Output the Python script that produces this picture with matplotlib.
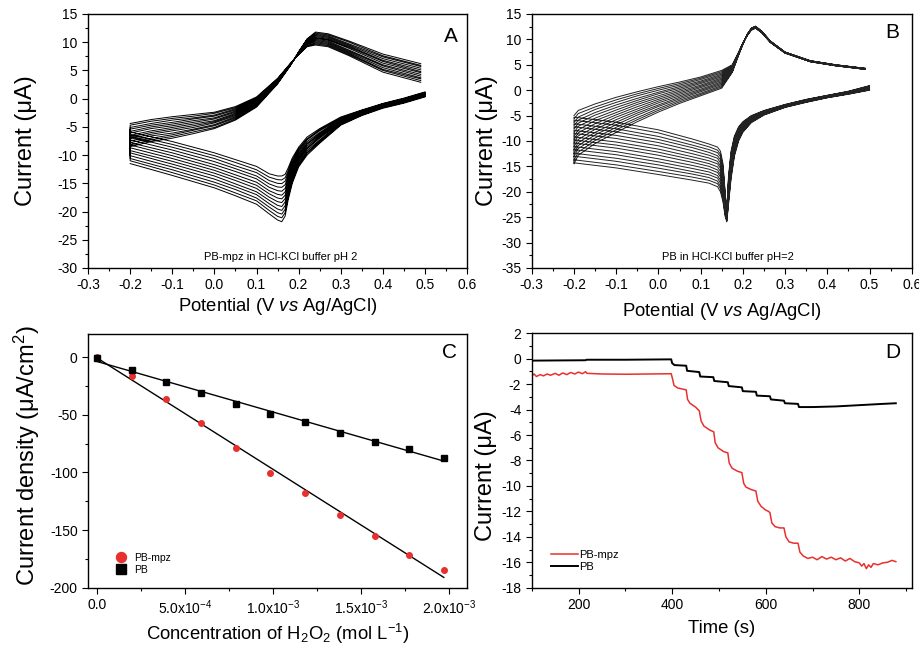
import numpy as np
import matplotlib
matplotlib.use('Agg')
import matplotlib.pyplot as plt
from matplotlib.ticker import MultipleLocator

plt.rcParams['font.family'] = ['Liberation Sans', 'DejaVu Sans']
plt.rcParams['mathtext.fontset'] = 'custom'
plt.rcParams['mathtext.rm'] = 'Liberation Sans'
plt.rcParams['mathtext.it'] = 'Liberation Sans:italic'
plt.rcParams['mathtext.bf'] = 'Liberation Sans:bold'
plt.rcParams['axes.unicode_minus'] = False

# ---- panel A: PB-mpz cyclic voltammograms (13 cycles) ----
# each row = current of every cycle at one potential
A_up_V = [-0.2, -0.15, -0.1, -0.05, 0.0, 0.05, 0.1, 0.15, 0.18, 0.2, 0.22, 0.24, 0.27, 0.32, 0.4, 0.49]
A_up_I = [
    [-4.4, -4.7, -5.1, -5.4, -5.8, -6.1, -6.5, -6.8, -7.1, -7.5, -7.8, -8.2, -8.5],
    [-3.7, -4.0, -4.4, -4.7, -5.0, -5.3, -5.7, -6.0, -6.3, -6.6, -7.0, -7.3, -7.6],
    [-3.2, -3.5, -3.8, -4.2, -4.5, -4.8, -5.1, -5.4, -5.7, -6.1, -6.4, -6.7, -7.0],
    [-2.8, -3.1, -3.4, -3.6, -3.9, -4.2, -4.5, -4.8, -5.1, -5.4, -5.6, -5.9, -6.2],
    [-2.4, -2.6, -2.9, -3.1, -3.4, -3.6, -3.9, -4.1, -4.3, -4.6, -4.8, -5.1, -5.3],
    [-1.4, -1.6, -1.8, -2.0, -2.2, -2.4, -2.6, -2.8, -3.0, -3.2, -3.4, -3.6, -3.8],
    [0.3, 0.15, 0.0, -0.15, -0.3, -0.45, -0.6, -0.75, -0.9, -1.05, -1.2, -1.35, -1.5],
    [3.6, 3.5, 3.4, 3.4, 3.3, 3.2, 3.1, 3.0, 2.9, 2.9, 2.8, 2.7, 2.6],
    [6.2, 6.2, 6.1, 6.1, 6.1, 6.0, 6.0, 6.0, 5.9, 5.9, 5.9, 5.8, 5.8],
    [7.8, 7.8, 7.9, 7.9, 8.0, 8.0, 8.0, 8.1, 8.1, 8.2, 8.2, 8.3, 8.3],
    [9.2, 9.3, 9.4, 9.6, 9.7, 9.8, 9.9, 10.0, 10.1, 10.2, 10.4, 10.5, 10.6],
    [9.5, 9.7, 9.9, 10.1, 10.3, 10.5, 10.7, 10.8, 11.0, 11.2, 11.4, 11.6, 11.8],
    [9.2, 9.4, 9.6, 9.8, 10.0, 10.2, 10.4, 10.5, 10.7, 10.9, 11.1, 11.3, 11.5],
    [7.6, 7.8, 8.0, 8.2, 8.4, 8.6, 8.9, 9.1, 9.3, 9.5, 9.7, 10.0, 10.2],
    [4.7, 5.0, 5.2, 5.5, 5.8, 6.0, 6.3, 6.6, 6.8, 7.1, 7.4, 7.6, 7.9],
    [2.9, 3.2, 3.5, 3.7, 4.0, 4.3, 4.6, 4.8, 5.1, 5.4, 5.7, 5.9, 6.2],
]
A_dn_V = [0.5, 0.45, 0.4, 0.35, 0.3, 0.25, 0.22, 0.2, 0.185, 0.175, 0.168, 0.16, 0.15, 0.13, 0.1, 0.05, 0.0, -0.1, -0.2]
A_dn_I = [
    [1.2, 1.1, 1.05, 1.0, 0.9, 0.85, 0.75, 0.7, 0.6, 0.5, 0.45, 0.4, 0.3],
    [0.1, 0.0, -0.05, -0.1, -0.2, -0.25, -0.35, -0.4, -0.5, -0.6, -0.65, -0.7, -0.8],
    [-0.85, -0.9, -1.0, -1.05, -1.1, -1.2, -1.3, -1.35, -1.4, -1.5, -1.55, -1.6, -1.7],
    [-2.0, -2.1, -2.2, -2.25, -2.3, -2.4, -2.5, -2.6, -2.65, -2.75, -2.85, -2.9, -3.0],
    [-3.25, -3.4, -3.5, -3.6, -3.7, -3.85, -4.0, -4.1, -4.2, -4.35, -4.45, -4.6, -4.7],
    [-5.3, -5.5, -5.7, -6.0, -6.2, -6.4, -6.6, -6.8, -7.0, -7.3, -7.5, -7.7, -7.9],
    [-6.8, -7.1, -7.3, -7.6, -7.9, -8.1, -8.4, -8.7, -8.9, -9.2, -9.5, -9.7, -10.0],
    [-8.6, -8.9, -9.2, -9.5, -9.8, -10.1, -10.4, -10.6, -10.9, -11.2, -11.5, -11.8, -12.1],
    [-10.5, -10.9, -11.3, -11.6, -12.0, -12.4, -12.8, -13.1, -13.5, -13.9, -14.3, -14.6, -15.0],
    [-12.3, -12.8, -13.25, -13.7, -14.2, -14.7, -15.15, -15.6, -16.1, -16.6, -17.05, -17.5, -18.0],
    [-13.4, -14.0, -14.6, -15.25, -15.9, -16.5, -17.1, -17.7, -18.3, -18.95, -19.6, -20.2, -20.8],
    [-13.7, -14.4, -15.05, -15.7, -16.4, -17.1, -17.75, -18.4, -19.1, -19.8, -20.45, -21.1, -21.8],
    [-13.7, -14.35, -15.0, -15.65, -16.3, -16.95, -17.6, -18.25, -18.9, -19.55, -20.2, -20.85, -21.5],
    [-13.3, -13.9, -14.5, -15.1, -15.7, -16.3, -16.85, -17.45, -18.0, -18.6, -19.2, -19.8, -20.4],
    [-12.0, -12.6, -13.1, -13.7, -14.2, -14.8, -15.35, -15.9, -16.5, -17.0, -17.6, -18.1, -18.7],
    [-10.8, -11.3, -11.9, -12.4, -12.9, -13.5, -14.0, -14.5, -15.1, -15.6, -16.1, -16.7, -17.2],
    [-9.6, -10.1, -10.6, -11.15, -11.7, -12.2, -12.7, -13.2, -13.7, -14.25, -14.8, -15.3, -15.8],
    [-7.6, -8.1, -8.6, -9.1, -9.6, -10.1, -10.6, -11.1, -11.6, -12.1, -12.6, -13.1, -13.6],
    [-5.9, -6.4, -6.8, -7.3, -7.8, -8.2, -8.7, -9.2, -9.6, -10.1, -10.6, -11.0, -11.5],
]

# ---- panel B: PB cyclic voltammograms (15 cycles) ----
B_up_V = [-0.2, -0.19, -0.15, -0.1, -0.05, 0.0, 0.05, 0.1, 0.15, 0.175, 0.19, 0.2, 0.21, 0.22, 0.23,
          0.245, 0.265, 0.3, 0.36, 0.42, 0.49]
B_up_I = [
    [-5.0, -5.7, -6.4, -7.0, -7.7, -8.4, -9.1, -9.75, -10.4, -11.1, -11.8, -12.5, -13.1, -13.8, -14.5],
    [-4.0, -4.6, -5.3, -5.9, -6.5, -7.1, -7.8, -8.4, -9.0, -9.7, -10.3, -10.9, -11.5, -12.2, -12.8],
    [-2.7, -3.3, -3.8, -4.4, -4.9, -5.5, -6.0, -6.6, -7.2, -7.7, -8.3, -8.8, -9.4, -9.9, -10.5],
    [-1.4, -1.9, -2.4, -2.9, -3.4, -3.9, -4.4, -4.85, -5.3, -5.8, -6.3, -6.8, -7.3, -7.8, -8.3],
    [-0.3, -0.7, -1.1, -1.6, -2.0, -2.4, -2.8, -3.25, -3.7, -4.1, -4.5, -4.9, -5.4, -5.8, -6.2],
    [0.7, 0.35, 0.0, -0.4, -0.7, -1.1, -1.45, -1.8, -2.15, -2.5, -2.9, -3.2, -3.6, -3.95, -4.3],
    [1.6, 1.3, 1.0, 0.7, 0.4, 0.1, -0.2, -0.5, -0.8, -1.1, -1.4, -1.7, -2.0, -2.3, -2.6],
    [2.6, 2.35, 2.1, 1.8, 1.55, 1.3, 1.0, 0.75, 0.5, 0.2, -0.05, -0.3, -0.6, -0.85, -1.1],
    [3.9, 3.65, 3.4, 3.15, 2.9, 2.65, 2.4, 2.15, 1.9, 1.65, 1.4, 1.15, 0.9, 0.65, 0.4],
    [5.0, 4.9, 4.8, 4.7, 4.6, 4.5, 4.4, 4.25, 4.15, 4.05, 3.95, 3.85, 3.7, 3.6, 3.5],
    [7.5, 7.45, 7.4, 7.35, 7.3, 7.3, 7.25, 7.2, 7.15, 7.1, 7.05, 7.0, 7.0, 6.95, 6.9],
    [9.3, 9.3, 9.3, 9.25, 9.25, 9.2, 9.2, 9.15, 9.15, 9.1, 9.1, 9.05, 9.05, 9.0, 9.0],
    [10.7, 10.7, 10.75, 10.75, 10.8, 10.8, 10.8, 10.85, 10.85, 10.9, 10.9, 10.9, 10.95, 10.95, 11.0],
    [11.8, 11.85, 11.85, 11.9, 11.9, 11.95, 12.0, 12.0, 12.05, 12.05, 12.1, 12.1, 12.15, 12.2, 12.2],
    [12.2, 12.25, 12.25, 12.3, 12.3, 12.35, 12.4, 12.4, 12.45, 12.45, 12.5, 12.5, 12.55, 12.6, 12.6],
    [11.3, 11.3, 11.3, 11.35, 11.35, 11.4, 11.4, 11.45, 11.45, 11.5, 11.5, 11.55, 11.55, 11.6, 11.6],
    [9.4, 9.4, 9.45, 9.45, 9.5, 9.5, 9.55, 9.55, 9.6, 9.6, 9.6, 9.65, 9.65, 9.7, 9.7],
    [7.3, 7.3, 7.3, 7.35, 7.35, 7.35, 7.4, 7.4, 7.4, 7.45, 7.45, 7.45, 7.5, 7.5, 7.5],
    [5.6, 5.6, 5.6, 5.65, 5.65, 5.65, 5.7, 5.7, 5.7, 5.75, 5.75, 5.75, 5.8, 5.8, 5.8],
    [4.8, 4.8, 4.8, 4.85, 4.85, 4.85, 4.9, 4.9, 4.9, 4.95, 4.95, 4.95, 5.0, 5.0, 5.0],
    [4.1, 4.1, 4.1, 4.15, 4.15, 4.15, 4.2, 4.2, 4.2, 4.25, 4.25, 4.25, 4.3, 4.3, 4.3],
]
B_dn_V = [0.5, 0.45, 0.4, 0.35, 0.3, 0.25, 0.22, 0.2, 0.19, 0.18, 0.172, 0.166, 0.162, 0.158, 0.153,
          0.147, 0.14, 0.12, 0.08, 0.0, -0.1, -0.2]
B_dn_I = [
    [0.9, 0.85, 0.75, 0.7, 0.65, 0.6, 0.5, 0.45, 0.4, 0.3, 0.25, 0.2, 0.15, 0.05, 0.0],
    [-0.2, -0.25, -0.3, -0.3, -0.35, -0.4, -0.45, -0.5, -0.55, -0.6, -0.6, -0.65, -0.7, -0.75, -0.8],
    [-1.0, -1.05, -1.05, -1.1, -1.15, -1.2, -1.2, -1.25, -1.3, -1.3, -1.35, -1.4, -1.45, -1.45, -1.5],
    [-1.8, -1.85, -1.9, -1.95, -2.0, -2.0, -2.05, -2.1, -2.15, -2.2, -2.25, -2.25, -2.3, -2.35, -2.4],
    [-2.8, -2.85, -2.9, -2.95, -3.0, -3.0, -3.05, -3.1, -3.15, -3.2, -3.25, -3.25, -3.3, -3.35, -3.4],
    [-4.0, -4.05, -4.15, -4.2, -4.25, -4.3, -4.4, -4.45, -4.5, -4.6, -4.65, -4.7, -4.75, -4.85, -4.9],
    [-5.0, -5.1, -5.2, -5.3, -5.4, -5.5, -5.6, -5.7, -5.8, -5.9, -6.0, -6.1, -6.2, -6.3, -6.4],
    [-6.2, -6.35, -6.5, -6.65, -6.8, -6.95, -7.1, -7.25, -7.4, -7.55, -7.7, -7.85, -8.0, -8.15, -8.3],
    [-7.2, -7.4, -7.6, -7.8, -8.0, -8.2, -8.4, -8.6, -8.8, -9.0, -9.2, -9.4, -9.6, -9.8, -10.0],
    [-9.0, -9.3, -9.6, -9.9, -10.1, -10.4, -10.7, -11.0, -11.3, -11.6, -11.9, -12.1, -12.4, -12.7, -13.0],
    [-12.0, -12.4, -12.8, -13.2, -13.6, -14.0, -14.4, -14.75, -15.1, -15.5, -15.9, -16.3, -16.7, -17.1, -17.5],
    [-17.0, -17.4, -17.8, -18.2, -18.6, -19.0, -19.4, -19.75, -20.1, -20.5, -20.9, -21.3, -21.7, -22.1, -22.5],
    [-23.8, -23.95, -24.1, -24.25, -24.4, -24.55, -24.7, -24.85, -25.0, -25.15, -25.3, -25.45, -25.6, -25.75, -25.9],
    [-20.0, -20.3, -20.7, -21.0, -21.4, -21.7, -22.1, -22.4, -22.7, -23.1, -23.4, -23.8, -24.1, -24.5, -24.8],
    [-14.5, -15.0, -15.6, -16.1, -16.6, -17.2, -17.7, -18.25, -18.8, -19.3, -19.9, -20.4, -20.9, -21.5, -22.0],
    [-12.0, -12.6, -13.1, -13.7, -14.3, -14.9, -15.4, -16.0, -16.6, -17.1, -17.7, -18.3, -18.9, -19.4, -20.0],
    [-11.2, -11.8, -12.3, -12.9, -13.4, -14.0, -14.5, -15.1, -15.7, -16.2, -16.8, -17.3, -17.9, -18.4, -19.0],
    [-10.6, -11.15, -11.7, -12.25, -12.8, -13.35, -13.9, -14.45, -15.0, -15.55, -16.1, -16.65, -17.2, -17.75, -18.3],
    [-9.6, -10.2, -10.8, -11.3, -11.9, -12.5, -13.1, -13.65, -14.2, -14.8, -15.4, -16.0, -16.5, -17.1, -17.7],
    [-7.8, -8.4, -9.1, -9.7, -10.3, -10.95, -11.6, -12.2, -12.8, -13.5, -14.1, -14.7, -15.35, -16.0, -16.6],
    [-6.3, -6.9, -7.6, -8.2, -8.9, -9.5, -10.2, -10.8, -11.4, -12.1, -12.7, -13.4, -14.0, -14.7, -15.3],
    [-5.3, -5.9, -6.6, -7.2, -7.9, -8.5, -9.2, -9.8, -10.4, -11.1, -11.7, -12.4, -13.0, -13.7, -14.3],
]

# ---- panel C: calibration ----
conc = [0.0, 1.97e-4, 3.94e-4, 5.90e-4, 7.87e-4, 9.84e-4, 1.180e-3, 1.378e-3, 1.575e-3, 1.772e-3, 1.968e-3]
j_pbmpz = [0.0, -16.7, -36.7, -57.1, -78.5, -100.4, -117.5, -137.1, -155.0, -171.3, -184.4]
j_pb = [-0.5, -11.0, -21.4, -31.5, -40.7, -49.1, -56.6, -65.5, -73.3, -79.7, -87.7]
C_xticks = [0.0, 5e-4, 1e-3, 1.5e-3, 2e-3]
C_xlabels = ['0.0', r'5.0x10$^{-4}$', r'1.0x10$^{-3}$', r'1.5x10$^{-3}$', r'2.0x10$^{-3}$']

# ---- panel D: amperometry ----
t_pb = [100, 215, 217, 300, 398, 400, 405, 430, 432, 458, 460, 488, 490, 519, 521, 549, 551, 579, 581,
        609, 611, 639, 641, 669, 671, 700, 750, 800, 850, 878]
i_pb = [-0.15, -0.12, -0.08, -0.08, -0.05, -0.35, -0.5, -0.55, -0.95, -1.05, -1.4, -1.45, -1.75, -1.85,
        -2.15, -2.25, -2.55, -2.6, -2.9, -2.95, -3.2, -3.3, -3.5, -3.55, -3.8, -3.8, -3.75, -3.65, -3.55, -3.5]
t_mpz = [100, 105, 110, 118, 125, 133, 140, 150, 158, 166, 175, 183, 192, 200, 208, 215, 218, 250, 300,
         350, 398,
         401, 404, 412, 430,
         433, 438, 450, 458,
         462, 468, 480, 489,
         492, 498, 510, 519,
         522, 528, 540, 549,
         553, 558, 570, 579,
         583, 590, 600, 606, 609,
         613, 620, 630, 639,
         643, 650, 660, 669,
         673, 680, 690, 700, 710, 720, 730, 740, 750, 760, 770, 780, 790, 800, 805, 810, 815, 820,
         825, 830, 840, 850, 860, 870, 878]
i_mpz = [-1.35, -1.2, -1.4, -1.25, -1.35, -1.2, -1.3, -1.15, -1.3, -1.12, -1.25, -1.08, -1.2, -1.05, -1.18,
         -1.02, -1.15, -1.2, -1.22, -1.2, -1.18,
         -1.6, -2.1, -2.3, -2.45,
         -3.2, -3.5, -3.8, -4.1,
         -4.9, -5.3, -5.6, -5.75,
         -6.6, -7.0, -7.3, -7.4,
         -8.2, -8.6, -8.85, -8.95,
         -9.8, -10.1, -10.3, -10.4,
         -11.2, -11.6, -11.9, -12.0, -12.1,
         -12.9, -13.2, -13.3, -13.3,
         -14.0, -14.4, -14.5, -14.5,
         -15.2, -15.5, -15.7, -15.6, -15.8, -15.55, -15.75, -15.6, -15.8, -15.65, -15.9, -15.7, -15.95,
         -16.05, -16.3, -16.1, -16.5, -16.2, -16.4, -16.1, -16.2, -16.05, -16.0, -15.85, -15.95]

RED = '#e8302e'
TICK_FS = 10
XLAB_FS = 13.3
YLAB_FS = 17


def cv_path(up_V, up_I, dn_V, dn_I):
    # sweep order: up_0, (gap), dn_0, up_1, (gap), dn_1 ... ; dn_k joins up_k+1 at -0.2 V
    up = np.array(up_I).T
    dn = np.array(dn_I).T
    xs = []
    ys = []
    for k in range(up.shape[0]):
        xs += list(up_V) + [np.nan] + list(dn_V)
        ys += list(up[k]) + [np.nan] + list(dn[k])
    return xs, ys


def style(ax):
    ax.tick_params(which='both', direction='out', top=False, right=False, labelsize=TICK_FS, width=0.8)
    ax.tick_params(which='major', length=4)
    ax.tick_params(which='minor', length=2.5)
    for sp in ax.spines.values():
        sp.set_linewidth(1.0)


fig = plt.figure(figsize=(9.2, 6.45), dpi=100)
axA = fig.add_axes([0.0957, 0.5845, 0.412, 0.3938])
axB = fig.add_axes([0.578, 0.5845, 0.413, 0.3938])
axC = fig.add_axes([0.0957, 0.0888, 0.412, 0.3934])
axD = fig.add_axes([0.578, 0.0888, 0.413, 0.3945])

# A
x, y = cv_path(A_up_V, A_up_I, A_dn_V, A_dn_I)
axA.plot(x, y, color='black', lw=0.7)
axA.set_xlim(-0.3, 0.6)
axA.set_ylim(-30, 15)
axA.xaxis.set_major_locator(MultipleLocator(0.1))
axA.xaxis.set_minor_locator(MultipleLocator(0.05))
axA.yaxis.set_major_locator(MultipleLocator(5))
axA.yaxis.set_minor_locator(MultipleLocator(2.5))
style(axA)
axA.set_xlabel(r'Potential (V $\it{vs}$ Ag/AgCl)', fontsize=XLAB_FS)
axA.set_ylabel('Current (μA)', fontsize=YLAB_FS)
axA.xaxis.set_label_coords(0.5, -0.112)
axA.yaxis.set_label_coords(-0.135, 0.5)
axA.text(0.975, 0.95, 'A', transform=axA.transAxes, ha='right', va='top', fontsize=15)
axA.text(0.509, 0.042, 'PB-mpz in HCl-KCl buffer pH 2', transform=axA.transAxes,
         ha='center', va='center', fontsize=8)

# B
x, y = cv_path(B_up_V, B_up_I, B_dn_V, B_dn_I)
axB.plot(x, y, color='#222222', lw=0.7)
axB.set_xlim(-0.3, 0.6)
axB.set_ylim(-35, 15)
axB.xaxis.set_major_locator(MultipleLocator(0.1))
axB.xaxis.set_minor_locator(MultipleLocator(0.05))
axB.yaxis.set_major_locator(MultipleLocator(5))
axB.yaxis.set_minor_locator(MultipleLocator(2.5))
style(axB)
axB.set_xlabel(r'Potential (V $\it{vs}$ Ag/AgCl)', fontsize=XLAB_FS)
axB.set_ylabel('Current (μA)', fontsize=YLAB_FS)
axB.xaxis.set_label_coords(0.5, -0.13)
axB.yaxis.set_label_coords(-0.088, 0.5)
axB.text(0.967, 0.965, 'B', transform=axB.transAxes, ha='right', va='top', fontsize=15)
axB.text(0.517, 0.043, 'PB in HCl-KCl buffer pH=2', transform=axB.transAxes,
         ha='center', va='center', fontsize=8)

# C
axC.plot(conc, j_pbmpz, 'o', color=RED, ms=4, label='PB-mpz', zorder=3)
axC.plot(conc, j_pb, 's', color='black', ms=4.3, label='PB', zorder=4)
cx = np.array(conc)
p1 = np.polyfit(cx, j_pbmpz, 1)
p2 = np.polyfit(cx, j_pb, 1)
axC.plot(cx, np.polyval(p1, cx), color='black', lw=1.0, zorder=2)
axC.plot(cx, np.polyval(p2, cx), color='black', lw=1.0, zorder=2)
axC.set_xlim(-5e-5, 2.1e-3)
axC.set_ylim(-200, 20)
axC.set_xticks(C_xticks)
axC.set_xticklabels(C_xlabels)
axC.xaxis.set_minor_locator(MultipleLocator(2.5e-4))
axC.yaxis.set_major_locator(MultipleLocator(50))
axC.yaxis.set_minor_locator(MultipleLocator(25))
style(axC)
axC.set_xlabel(r'Concentration of H$_2$O$_2$ (mol L$^{-1}$)', fontsize=XLAB_FS)
axC.set_ylabel(r'Current density (μA/cm$^2$)', fontsize=YLAB_FS)
axC.xaxis.set_label_coords(0.5, -0.135)
axC.yaxis.set_label_coords(-0.122, 0.52)
axC.text(0.973, 0.965, 'C', transform=axC.transAxes, ha='right', va='top', fontsize=15)
axC.legend(loc='lower left', bbox_to_anchor=(0.04, 0.022), frameon=False, fontsize=7.5,
           markerscale=1.8, handletextpad=0.3, labelspacing=0.2, borderpad=0.2)

# D
axD.plot(t_mpz, i_mpz, color=RED, lw=1.1, label='PB-mpz')
axD.plot(t_pb, i_pb, color='black', lw=1.4, label='PB')
axD.set_xlim(100, 912)
axD.set_ylim(-18, 2)
axD.xaxis.set_major_locator(MultipleLocator(200))
axD.xaxis.set_minor_locator(MultipleLocator(100))
axD.yaxis.set_major_locator(MultipleLocator(2))
axD.yaxis.set_minor_locator(MultipleLocator(1))
style(axD)
axD.set_xlabel('Time (s)', fontsize=XLAB_FS)
axD.set_ylabel('Current (μA)', fontsize=YLAB_FS)
axD.xaxis.set_label_coords(0.5, -0.127)
axD.yaxis.set_label_coords(-0.092, 0.44)
axD.text(0.969, 0.96, 'D', transform=axD.transAxes, ha='right', va='top', fontsize=15)
axD.legend(loc='lower left', bbox_to_anchor=(0.03, 0.03), frameon=False, fontsize=8,
           handlelength=2.4, handletextpad=0.1, labelspacing=0.2, borderpad=0.2)

fig.savefig('out.png', dpi=100)
